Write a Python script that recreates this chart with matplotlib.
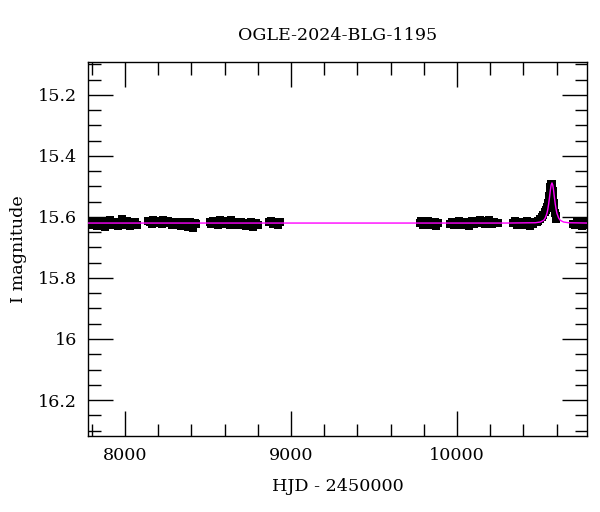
import matplotlib
matplotlib.use("Agg")
import matplotlib.pyplot as plt
from matplotlib.ticker import MultipleLocator, FormatStrFormatter

plt.rcParams['font.family'] = ['DejaVu Serif']

title = "OGLE-2024-BLG-1195"
xlabel = "HJD - 2450000"
ylabel = "I magnitude"

# Observations (HJD - 2450000, I mag), per season
hjd_s1 = [7780, 7790, 7800, 7810, 7820, 7830, 7840, 7850, 7860, 7870, 7880, 7890, 7900, 7910, 7920,
          7930, 7940, 7950, 7960, 7970, 7980, 7990, 8000, 8010, 8020, 8030, 8040, 8050, 8060, 8070]
mag_s1 = [15.625, 15.620, 15.628, 15.615, 15.622, 15.630, 15.618, 15.612, 15.626, 15.620, 15.633, 15.617,
          15.623, 15.609, 15.621, 15.628, 15.615, 15.624, 15.631, 15.619, 15.606, 15.622, 15.627, 15.614,
          15.620, 15.629, 15.618, 15.624, 15.616, 15.626]
hjd_s2 = [8140, 8150, 8160, 8170, 8180, 8190, 8200, 8210, 8220, 8230, 8240, 8250, 8260, 8270, 8280,
          8290, 8300, 8310, 8320, 8330, 8340, 8350, 8360, 8370, 8380, 8390, 8400, 8410, 8420, 8430]
mag_s2 = [15.612, 15.618, 15.622, 15.610, 15.615, 15.620, 15.613, 15.617, 15.624, 15.611, 15.616, 15.621,
          15.614, 15.619, 15.625, 15.618, 15.628, 15.620, 15.615, 15.623, 15.630, 15.618, 15.626, 15.621,
          15.632, 15.617, 15.624, 15.636, 15.619, 15.622]
hjd_s3 = [8510, 8520, 8530, 8540, 8550, 8560, 8570, 8580, 8590, 8600, 8610, 8620, 8630, 8640, 8650,
          8660, 8670, 8680, 8690, 8700, 8710, 8720, 8730, 8740, 8750, 8760, 8770, 8780, 8790, 8800]
mag_s3 = [15.618, 15.622, 15.612, 15.620, 15.615, 15.626, 15.610, 15.618, 15.623, 15.614, 15.620, 15.617,
          15.625, 15.611, 15.619, 15.624, 15.616, 15.628, 15.621, 15.615, 15.626, 15.619, 15.630, 15.622,
          15.627, 15.618, 15.634, 15.625, 15.620, 15.628]
hjd_s4 = [8870, 8880, 8890, 8900, 8910, 8920, 8935]
mag_s4 = [15.618, 15.612, 15.622, 15.615, 15.620, 15.625, 15.617]
hjd_s5 = [9775, 9785, 9795, 9805, 9815, 9825, 9835, 9845, 9855, 9865, 9875, 9885]
mag_s5 = [15.620, 15.614, 15.626, 15.618, 15.623, 15.612, 15.628, 15.619, 15.624, 15.616, 15.629, 15.621]
hjd_s6 = [9960, 9970, 9980, 9990, 10000, 10010, 10020, 10030, 10040, 10050, 10060, 10070, 10080, 10090,
          10100, 10110, 10120, 10130, 10140, 10150, 10160, 10170, 10180, 10190, 10200, 10210, 10220,
          10230, 10245]
mag_s6 = [15.622, 15.616, 15.627, 15.619, 15.624, 15.613, 15.628, 15.620, 15.625, 15.617, 15.622, 15.630,
          15.618, 15.614, 15.623, 15.612, 15.620, 15.616, 15.611, 15.619, 15.614, 15.622, 15.615, 15.610,
          15.618, 15.624, 15.616, 15.621, 15.619]
hjd_s7 = [10340, 10350, 10360, 10370, 10380, 10390, 10400, 10410, 10420, 10430, 10440, 10450, 10460,
          10470, 10480, 10490, 10500, 10510, 10520, 10528, 10536, 10542, 10548, 10552, 10556, 10560,
          10563, 10566, 10569, 10572, 10575, 10578, 10581, 10584, 10587, 10590, 10594, 10598]
mag_s7 = [15.620, 15.614, 15.625, 15.618, 15.622, 15.616, 15.628, 15.620, 15.613, 15.624, 15.630, 15.617,
          15.622, 15.615, 15.615, 15.612, 15.607, 15.600, 15.592, 15.585, 15.576, 15.566, 15.554, 15.543,
          15.530, 15.515, 15.503, 15.495, 15.492, 15.493, 15.500, 15.515, 15.535, 15.555, 15.572, 15.586,
          15.598, 15.608]
hjd_s8 = [10700, 10710, 10720, 10730, 10740, 10750, 10760, 10770, 10780]
mag_s8 = [15.622, 15.628, 15.616, 15.625, 15.620, 15.630, 15.618, 15.626, 15.621]
mag_err = 0.013

hjd_all = hjd_s1 + hjd_s2 + hjd_s3 + hjd_s4 + hjd_s5 + hjd_s6 + hjd_s7 + hjd_s8
mag_all = mag_s1 + mag_s2 + mag_s3 + mag_s4 + mag_s5 + mag_s6 + mag_s7 + mag_s8

# Model curve (point-lens fit)
model_hjd = [7777, 10300, 10472, 10502, 10522, 10532, 10542, 10547, 10552, 10557, 10562, 10567, 10572,
             10577, 10582, 10587, 10592, 10597, 10602, 10612, 10622, 10642, 10672, 10783]
model_mag = [15.620, 15.620, 15.619, 15.6166, 15.611, 15.603, 15.588, 15.575, 15.558, 15.537, 15.514,
             15.4957, 15.4885, 15.4957, 15.514, 15.537, 15.558, 15.575, 15.588, 15.603, 15.611,
             15.6166, 15.619, 15.620]

fig = plt.figure(figsize=(6.0, 5.12), dpi=100)
ax = fig.add_axes([0.1467, 0.1484, 0.8316, 0.7306])

ax.errorbar(hjd_all, mag_all, yerr=mag_err, fmt='s', color='black', ms=5.5, mew=0,
            elinewidth=1.2, capsize=0, zorder=2)
ax.plot(model_hjd, model_mag, color='#ff00ff', lw=1.0, zorder=3)

ax.set_xlim(7777, 10783)
ax.set_ylim(16.318, 15.092)

ax.xaxis.set_major_locator(MultipleLocator(1000))
ax.xaxis.set_minor_locator(MultipleLocator(200))
ax.yaxis.set_major_locator(MultipleLocator(0.2))
ax.yaxis.set_minor_locator(MultipleLocator(0.05))
ax.yaxis.set_major_formatter(FormatStrFormatter('%g'))

ax.tick_params(which='both', direction='in', top=True, right=True, width=1.0, labelsize=12.6)
ax.tick_params(which='major', length=18, pad=8)
ax.tick_params(which='minor', length=9)
for s in ax.spines.values():
    s.set_linewidth(1.0)

ax.set_title(title, fontsize=12.6, pad=16)
ax.set_xlabel(xlabel, fontsize=12.6, labelpad=10)
ax.set_ylabel(ylabel, fontsize=12.6, labelpad=8)

fig.savefig("out.png", dpi=100)
